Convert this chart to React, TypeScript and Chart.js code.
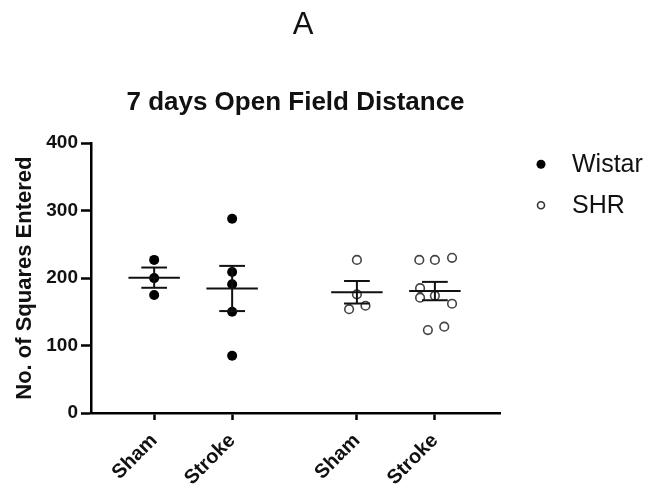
import React, { useEffect, useRef } from "react";
import { Chart, registerables } from "chart.js";

Chart.register(...registerables);

// ---- data ----
const groupLabels = ["Sham", "Stroke", "Sham", "Stroke"];
const seriesNames = ["Wistar", "SHR"];
const wistarSham = [227, 200, 175];
const wistarStroke = [288, 209, 191, 150, 85];
const shrSham = [227, 176, 154, 159];
const shrStroke = [227, 227, 230, 185, 171, 174, 162, 123, 128];
const yTickValues = [0, 100, 200, 300, 400];

// ---- layout (category placement and point spread) ----
const groupX = [0, 1, 2.6, 3.6];
const wistarShamJitter = [0, 0, 0];
const wistarStrokeJitter = [0, 0, 0, 0, 0];
const shrShamJitter = [0, 0, -0.1, 0.11];
const shrStrokeJitter = [-0.2, 0, 0.22, -0.19, -0.19, 0, 0.22, -0.09, 0.12];

const FONT = "'Liberation Sans', Arial, Helvetica, sans-serif";

const groups = [wistarSham, wistarStroke, shrSham, shrStroke];
const jitters = [wistarShamJitter, wistarStrokeJitter, shrShamJitter, shrStrokeJitter];

function pts(gi: number) {
  return groups[gi].map((v, k) => ({ x: groupX[gi] + jitters[gi][k], y: v }));
}

const meanSemPlugin = {
  id: "meanSem",
  afterDatasetsDraw(chart: any) {
    const { ctx } = chart;
    const xs = chart.scales.x;
    const ys = chart.scales.y;
    groups.forEach((vals, i) => {
      const n = vals.length;
      const m = vals.reduce((a, b) => a + b, 0) / n;
      const sd = Math.sqrt(vals.reduce((a, b) => a + (b - m) * (b - m), 0) / (n - 1));
      const sem = sd / Math.sqrt(n);
      const cx = groupX[i];
      const line = (x1: number, y1: number, x2: number, y2: number) => {
        ctx.beginPath();
        ctx.moveTo(xs.getPixelForValue(x1), ys.getPixelForValue(y1));
        ctx.lineTo(xs.getPixelForValue(x2), ys.getPixelForValue(y2));
        ctx.stroke();
      };
      ctx.save();
      ctx.strokeStyle = "#111";
      ctx.lineWidth = 2;
      line(cx - 0.33, m, cx + 0.33, m);
      line(cx, m - sem, cx, m + sem);
      line(cx - 0.165, m + sem, cx + 0.165, m + sem);
      line(cx - 0.165, m - sem, cx + 0.165, m - sem);
      ctx.restore();
    });
  },
};

const extrasPlugin = {
  id: "extras",
  afterDraw(chart: any) {
    const { ctx, chartArea } = chart;
    ctx.save();
    // panel letter
    ctx.fillStyle = "#111";
    ctx.font = `normal 31px ${FONT}`;
    ctx.textAlign = "center";
    ctx.textBaseline = "alphabetic";
    ctx.fillText("A", chartArea.left + 212, 34);
    // legend
    const mx = chartArea.right + 41;
    const tx = chartArea.right + 72;
    const rows = [chartArea.top + 21, chartArea.top + 62];
    ctx.font = `normal 25px ${FONT}`;
    ctx.textAlign = "left";
    ctx.textBaseline = "middle";
    seriesNames.forEach((name, i) => {
      const yy = rows[i];
      ctx.beginPath();
      if (i === 0) {
        ctx.arc(mx, yy, 4.5, 0, Math.PI * 2);
        ctx.fillStyle = "#000";
        ctx.fill();
      } else {
        ctx.arc(mx, yy, 3.5, 0, Math.PI * 2);
        ctx.strokeStyle = "#333";
        ctx.lineWidth = 1.6;
        ctx.stroke();
      }
      ctx.fillStyle = "#111";
      ctx.fillText(name, tx, yy + 1);
    });
    ctx.restore();
  },
};

export default function App() {
  const ref = useRef<HTMLCanvasElement | null>(null);
  useEffect(() => {
    if (!ref.current) return;
    const chart = new Chart(ref.current, {
      type: "scatter",
      data: {
        datasets: [
          {
            label: seriesNames[0],
            data: [...pts(0), ...pts(1)],
            backgroundColor: "#000",
            borderColor: "#000",
            pointRadius: 5,
            pointHoverRadius: 5,
            borderWidth: 0,
          },
          {
            label: seriesNames[1],
            data: [...pts(2), ...pts(3)],
            backgroundColor: "rgba(255,255,255,0)",
            borderColor: "#444",
            pointRadius: 4.3,
            pointHoverRadius: 4.3,
            borderWidth: 1.6,
          },
        ],
      },
      options: {
        animation: false,
        responsive: false,
        devicePixelRatio: 1,
        events: [],
        layout: { padding: { left: 0, right: 151, top: 0, bottom: 0 } },
        plugins: {
          legend: { display: false },
          tooltip: { enabled: false },
          title: {
            display: true,
            fullSize: false,
            text: "7 days Open Field Distance",
            color: "#111",
            font: { family: FONT, size: 26, weight: "bold" },
            padding: { top: 87, bottom: 25 },
          },
        },
        scales: {
          x: {
            type: "linear",
            min: -0.81,
            max: 4.435,
            afterBuildTicks: (scale: any) => {
              scale.ticks = groupX.map((v) => ({ value: v }));
            },
            afterFit: (scale: any) => {
              scale.height = 79;
            },
            ticks: {
              autoSkip: false,
              minRotation: 45,
              maxRotation: 45,
              padding: 9,
              color: "#111",
              font: { family: FONT, size: 20, weight: "bold" },
              callback: (_v: any, i: number) => groupLabels[i],
            },
            grid: {
              display: true,
              drawOnChartArea: false,
              drawTicks: true,
              tickLength: 7,
              tickWidth: 2.5,
              tickColor: "#000",
              color: "#000",
            },
            border: { display: true, color: "#000", width: 2.5 },
          },
          y: {
            type: "linear",
            min: 0,
            max: 400,
            afterBuildTicks: (scale: any) => {
              scale.ticks = yTickValues.map((v) => ({ value: v }));
            },
            afterFit: (scale: any) => {
              scale.width = 91;
            },
            ticks: {
              padding: 3,
              color: "#111",
              font: { family: FONT, size: 19, weight: "bold" },
            },
            grid: {
              display: true,
              drawOnChartArea: false,
              drawTicks: true,
              tickLength: 10,
              tickWidth: 2.5,
              tickColor: "#000",
              color: "#000",
            },
            border: { display: true, color: "#000", width: 2.5 },
            title: {
              display: true,
              text: "No. of Squares Entered",
              color: "#111",
              font: { family: FONT, size: 22, weight: "bold" },
              padding: { top: 12, bottom: 0 },
            },
          },
        },
      },
      plugins: [meanSemPlugin, extrasPlugin],
    } as any);
    return () => chart.destroy();
  }, []);
  return (
    <div style={{ position: "absolute", left: 0, top: 0, width: 651, height: 492, background: "#fff" }}>
      <canvas ref={ref} width={651} height={492} />
    </div>
  );
}
